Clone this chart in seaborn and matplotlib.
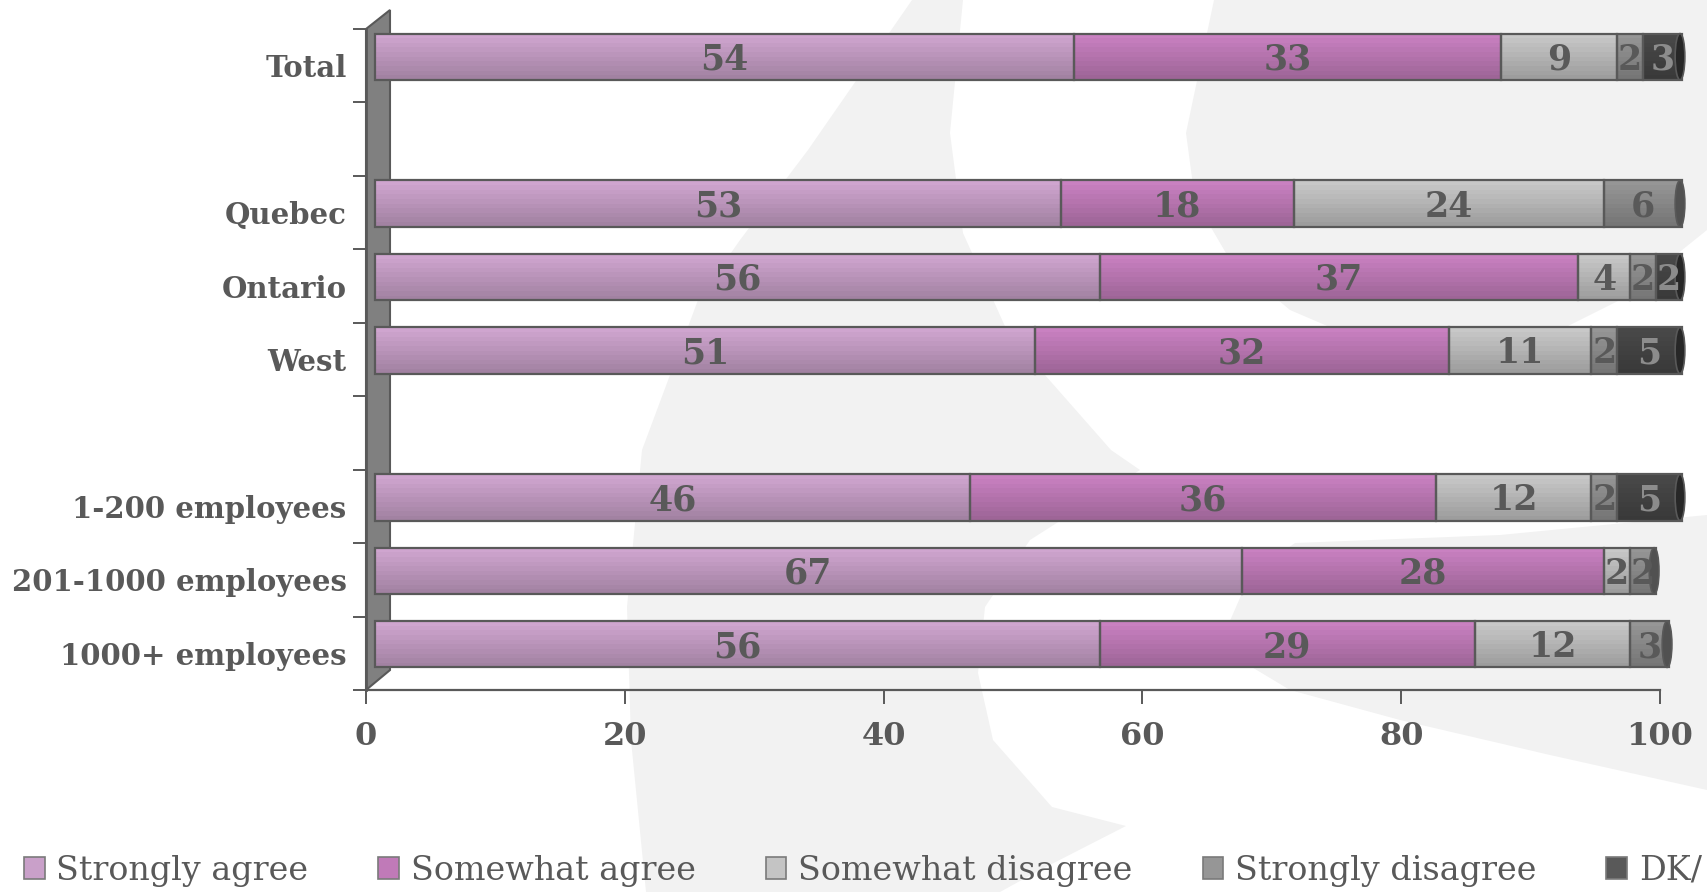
import numpy as np
import matplotlib
matplotlib.use("Agg")
import matplotlib.pyplot as plt
import seaborn as sns
from matplotlib.patches import Polygon, Patch, Ellipse
from matplotlib.transforms import ScaledTranslation
from matplotlib.colors import to_rgb

# ---- data (blank strings are spacer rows in the chart) ----
row_labels = ["Total", "", "Quebec", "Ontario", "West", "",
              "1-200 employees", "201-1000 employees", "1000+ employees"]
strongly_agree = [54, np.nan, 53, 56, 51, np.nan, 46, 67, 56]
somewhat_agree = [33, np.nan, 18, 37, 32, np.nan, 36, 28, 29]
somewhat_disagree = [9, np.nan, 24, 4, 11, np.nan, 12, 2, 12]
strongly_disagree = [2, np.nan, 6, 2, 2, np.nan, 2, 2, 3]
dk_na = [3, np.nan, 0, 2, 5, np.nan, 5, 0, 0]

series_names = ["Strongly agree", "Somewhat agree", "Somewhat disagree",
                "Strongly disagree", "DK/"]
series_values = [strongly_agree, somewhat_agree, somewhat_disagree,
                 strongly_disagree, dk_na]
series_colors = ["#cba2cb", "#c57ebd", "#c4c4c4", "#939393", "#474747"]
label_colors = ["#595959", "#595959", "#595959", "#595959", "#8c8c8c"]
legend_colors = ["#c9a0c9", "#c07ab8", "#c4c4c4", "#969696", "#595959"]
x_ticks = [0, 20, 40, 60, 80, 100]

TXT = "#595959"
W, H = 1707, 892

sns.set_theme(style="white")
plt.rcParams["font.family"] = ["DejaVu Serif", "DejaVu Sans"]

fig = plt.figure(figsize=(W / 100, H / 100), dpi=100)
fig.patch.set_facecolor("white")

# light grey watermark shapes behind the chart (figure pixel coords)
watermark = [
    [(912, 0), (808, 150), (740, 240), (698, 300), (642, 450), (627, 607),
     (631, 740), (646, 892), (1000, 892), (1040, 870), (1126, 826),
     (1052, 807), (993, 740), (978, 673), (985, 607), (1030, 540),
     (1140, 470), (1111, 450), (1008, 333), (963, 233), (950, 133), (963, 0)],
    [(1214, 0), (1186, 133), (1195, 200), (1230, 260), (1290, 310),
     (1360, 340), (1450, 355), (1540, 340), (1620, 300), (1707, 230), (1707, 0)],
    [(1295, 543), (1250, 575), (1229, 623), (1240, 660), (1290, 690),
     (1400, 720), (1550, 755), (1707, 790), (1707, 515), (1500, 535)],
]
for shape in watermark:
    pts = [(x / W, 1 - y / H) for x, y in shape]
    fig.patches.append(Polygon(pts, closed=True, transform=fig.transFigure,
                               facecolor="#f2f2f2", edgecolor="none", zorder=-5))

left, right, top, bottom = 366, 1660, 29, 690
ax = fig.add_axes([left / W, 1 - bottom / H, (right - left) / W, (bottom - top) / H])
ax.set_facecolor("none")

n = len(row_labels)
rows = np.arange(n)
ax.set_xlim(0, 100)
ax.set_ylim(n - 0.5, -0.5)

# 3D depth: the bars sit a bit behind the front plane (right and up)
depth = ax.transData + ScaledTranslation(9 / 100, 9 / 100, fig.dpi_scale_trans)

bar_h = 0.63
n_stripes = 10
shade = np.linspace(1.02, 0.80, n_stripes)

cum = np.zeros(n)
last_col = [None] * n
for name, vals, col, lc in zip(series_names, series_values, series_colors, label_colors):
    vals = np.array(vals, dtype=float)
    ok = ~np.isnan(vals) & (vals > 0)
    base = np.array(to_rgb(col))
    for k in range(n_stripes):
        c = np.clip(base * shade[k], 0, 1)
        yk = rows[ok] - bar_h / 2 + (k + 0.5) * bar_h / n_stripes
        ax.barh(yk, vals[ok], left=cum[ok], height=bar_h / n_stripes,
                color=c, edgecolor="none", transform=depth, zorder=3,
                clip_on=False)
    ax.barh(rows[ok], vals[ok], left=cum[ok], height=bar_h, fill=False,
            edgecolor=TXT, linewidth=1.6, transform=depth, zorder=4,
            clip_on=False)
    for r, v, c0 in zip(rows[ok], vals[ok], cum[ok]):
        ax.text(c0 + v / 2, r + 0.04, f"{int(v)}", ha="center", va="center",
                fontsize=25, fontweight="bold", color=lc,
                transform=depth, zorder=6, clip_on=False)
    for r in rows[ok]:
        last_col[r] = base
    cum = cum + np.nan_to_num(vals)

# dark end caps of the cylinders
for r in rows:
    if last_col[r] is None:
        continue
    cap = Ellipse((cum[r] - 0.15, r), width=0.75, height=bar_h,
                  facecolor=np.clip(last_col[r] * 0.55, 0, 1), edgecolor=TXT,
                  linewidth=1.2, transform=depth, zorder=5, clip_on=False)
    ax.add_patch(cap)

# side wall on the left
dx, dy = 24 / (right - left), 19 / (bottom - top)
wall = Polygon([(0, 1), (dx, 1 + dy), (dx, dy * 1.05), (0, 0)], closed=True,
               transform=ax.transAxes, facecolor="#808080", edgecolor=TXT,
               linewidth=1.5, clip_on=False, zorder=2)
ax.add_patch(wall)

# axes styling
for s in ["top", "right"]:
    ax.spines[s].set_visible(False)
ax.spines["left"].set_color(TXT)
ax.spines["left"].set_linewidth(2)
ax.spines["bottom"].set_color(TXT)
ax.spines["bottom"].set_linewidth(1.6)

ax.set_yticks(rows)
ax.set_yticklabels(row_labels)
ax.set_yticks(np.arange(-0.5, n, 1.0), minor=True)
ax.tick_params(axis="y", which="major", length=0, pad=14,
               labelsize=21, labelcolor=TXT)
ax.tick_params(axis="y", which="minor", length=9.5, width=1.4, color=TXT,
               direction="out", left=True)
for t in ax.get_yticklabels():
    t.set_fontweight("bold")

ax.set_xticks(x_ticks)
ax.set_xticklabels([str(v) for v in x_ticks])
ax.tick_params(axis="x", which="major", length=10, width=1.4, color=TXT,
               direction="out", bottom=True, pad=12, labelsize=23, labelcolor=TXT)
for t in ax.get_xticklabels():
    t.set_fontweight("bold")
ax.grid(False)

# legend along the bottom
handles = [Patch(facecolor=c, edgecolor="#7a7a7a", linewidth=1.2) for c in legend_colors]
fig.legend(handles, series_names, loc="center left",
           bbox_to_anchor=(24 / W, 1 - 871 / H), ncol=5, frameon=False,
           fontsize=24, labelcolor=TXT, handlelength=0.62, handleheight=0.62,
           handletextpad=0.35, columnspacing=2.1, borderpad=0, borderaxespad=0)

fig.savefig("out.png", dpi=100)
